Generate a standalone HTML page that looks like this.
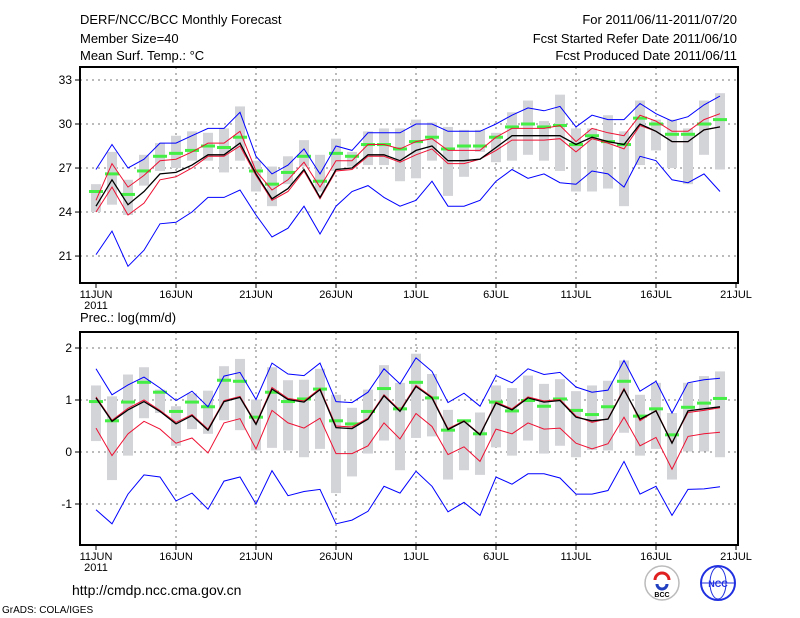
<!DOCTYPE html>
<html><head><meta charset="utf-8">
<style>
html,body{margin:0;padding:0;background:#fff;}
svg{display:block;}
text{font-family:"Liberation Sans Narrow","Liberation Sans",sans-serif;fill:#000;}
</style></head>
<body>
<svg id="chart" width="800" height="618" viewBox="0 0 800 618" xmlns="http://www.w3.org/2000/svg">
<rect width="800" height="618" fill="#fff"/>
<g font-size="13">
<text x="80" y="24">DERF/NCC/BCC Monthly Forecast</text>
<text x="80" y="43">Member Size=40</text>
<text x="80" y="60">Mean Surf. Temp.: °C</text>
<text x="737" y="24" text-anchor="end">For 2011/06/11-2011/07/20</text>
<text x="737" y="43" text-anchor="end">Fcst Started Refer Date 2011/06/10</text>
<text x="737" y="60" text-anchor="end">Fcst Produced Date 2011/06/11</text>
<text x="80" y="322">Prec.: log(mm/d)</text>
<text x="72" y="595" font-size="14">http://cmdp.ncc.cma.gov.cn</text>
<text x="2" y="613" font-size="10">GrADS: COLA/IGES</text>
</g>
<g>
<circle cx="662" cy="583" r="17" fill="#fff" stroke="#bbb" stroke-width="1.5"/>
<path d="M655 580 a7 7 0 1 1 14 0" fill="none" stroke="#e02020" stroke-width="3"/>
<path d="M657 584 a5 5 0 0 0 10 0" fill="none" stroke="#2040c0" stroke-width="3"/>
<text x="662" y="597" font-size="7" text-anchor="middle" font-weight="bold">BCC</text>
</g>
<g>
<circle cx="718" cy="583" r="17" fill="#fff" stroke="#2030e0" stroke-width="2"/>
<ellipse cx="718" cy="583" rx="8" ry="16" fill="none" stroke="#2030e0" stroke-width="1"/>
<line x1="702" y1="583" x2="734" y2="583" stroke="#2030e0"/>
<text x="718" y="587" font-size="9" text-anchor="middle" font-weight="bold" style="fill:#2030e0">NCC</text>
</g>
<g id="top"></g>
<g id="bot"></g>
</svg>
<script>
// x axis
const tickDays=[0,5,10,15,20,25,30,35,40];
const tickLabels=["11JUN","16JUN","21JUN","26JUN","1JUL","6JUL","11JUL","16JUL","21JUL"];
// temperature panel
const tTicks=[33,30,27,24,21];
const tBlueUp=[26.9,28.6,27.0,27.6,28.7,28.7,29.2,29.7,29.7,30.8,27.8,26.6,27.2,28.3,26.6,28.5,28.2,29.4,29.4,29.4,30.0,30.0,29.5,29.5,29.5,30.0,30.6,31.1,30.9,31.2,29.8,30.6,30.3,30.3,31.4,30.7,30.2,30.5,31.3,31.9];
const tBlueLo=[21.1,22.7,20.3,21.4,23.2,23.3,24.0,25.0,25.0,25.5,23.8,22.3,22.9,24.4,22.5,24.4,25.4,25.8,25.0,24.4,24.8,26.1,24.4,24.4,24.8,26.1,26.9,26.3,26.6,26.0,25.9,26.8,26.6,25.7,27.8,27.5,26.2,26.0,26.6,25.4];
const tMean=[24.4,26.2,24.5,25.4,26.6,26.7,27.2,27.9,27.9,28.7,26.6,24.9,25.6,26.9,25.0,26.9,27.0,27.9,27.9,27.5,28.2,28.5,27.5,27.5,27.6,28.4,29.2,29.2,29.2,29.2,28.6,29.1,28.8,28.6,30.0,29.5,28.8,28.8,29.6,29.8];
const tRedUp=[24.8,27.3,25.7,26.5,27.5,27.6,28.1,28.7,28.7,29.5,26.8,25.5,26.2,27.4,25.7,27.5,27.5,28.6,28.6,28.3,28.8,29.0,28.2,28.2,28.2,29.1,29.7,29.7,29.7,29.9,28.8,29.7,29.4,29.2,30.6,30.2,29.5,29.5,30.3,30.7];
const tRedLo=[24.0,25.7,23.8,24.6,26.2,26.4,27.0,27.8,27.8,28.5,26.5,24.8,25.4,26.8,24.9,26.8,26.9,27.8,27.8,27.4,27.9,28.3,27.3,27.3,27.6,28.2,28.9,28.9,28.9,29.0,28.1,29.0,28.7,28.3,29.9,29.5,28.8,28.8,29.6,29.8];
const tObs=[25.4,26.6,25.2,26.8,27.8,28.0,28.2,28.5,28.4,29.1,26.8,25.9,26.7,27.8,26.1,28.0,27.8,28.6,28.6,28.3,28.8,29.1,28.3,28.5,28.5,29.1,29.8,30.0,29.8,29.9,28.6,29.2,28.8,28.6,30.4,30.0,29.3,29.3,30.0,30.3];
const tBarHi=[25.9,28.1,26.2,27.9,28.7,29.2,29.5,29.4,29.7,31.2,27.5,27.1,27.8,28.9,27.9,29.0,28.1,29.5,29.7,29.7,30.3,30.1,29.8,29.6,29.6,29.4,30.8,31.6,30.2,32.0,29.7,29.7,30.6,29.5,31.6,30.3,30.3,29.7,31.6,32.1];
const tBarLo=[24.0,24.5,23.8,25.8,26.8,27.0,27.5,27.5,26.7,27.5,25.4,24.4,25.9,27.1,25.4,26.8,27.1,27.2,27.2,26.1,26.3,27.5,25.1,26.4,28.1,27.4,27.5,27.9,27.5,26.8,25.4,25.4,25.6,24.4,27.2,28.2,27.0,25.9,27.9,26.9];
// precipitation panel
const pTicks=[2,1,0,-1];
const pBlueUp=[1.60,1.10,1.29,1.44,1.23,0.99,1.17,0.87,1.46,1.53,1.01,1.71,1.50,1.47,1.71,0.97,0.95,1.15,1.60,1.31,1.81,1.55,0.95,1.13,0.88,1.47,1.33,1.60,1.49,1.53,1.25,1.15,1.19,1.76,1.17,1.36,0.75,1.33,1.39,1.42];
const pBlueLo=[-1.11,-1.38,-0.81,-0.44,-0.48,-0.94,-0.79,-1.10,-0.56,-0.48,-1.00,-0.36,-0.84,-0.76,-0.72,-1.38,-1.31,-1.14,-0.66,-0.79,-0.37,-0.66,-1.15,-0.97,-1.22,-0.48,-0.62,-0.42,-0.42,-0.50,-0.81,-0.81,-0.74,-0.18,-0.81,-0.66,-1.22,-0.72,-0.71,-0.67];
const pMean=[1.04,0.59,0.81,0.97,0.78,0.54,0.70,0.42,0.97,1.05,0.53,1.21,1.01,0.96,1.20,0.47,0.45,0.63,1.08,0.78,1.26,1.04,0.43,0.59,0.33,0.94,0.81,1.04,0.96,0.99,0.67,0.60,0.63,1.20,0.63,0.79,0.17,0.79,0.83,0.87];
const pRedUp=[1.06,0.61,0.84,1.00,0.80,0.57,0.72,0.44,0.99,1.07,0.55,1.24,1.03,0.98,1.22,0.50,0.48,0.65,1.10,0.80,1.28,1.06,0.45,0.60,0.34,0.96,0.83,1.06,0.98,1.01,0.69,0.57,0.64,1.22,0.60,0.80,0.18,0.76,0.80,0.85];
const pRedLo=[0.46,-0.07,0.35,0.59,0.44,0.17,0.27,-0.02,0.56,0.64,0.06,0.80,0.56,0.46,0.65,-0.03,-0.03,0.12,0.56,0.25,0.74,0.49,-0.05,0.10,-0.18,0.44,0.35,0.56,0.44,0.46,0.17,0.06,0.16,0.67,0.12,0.28,-0.33,0.30,0.35,0.38];
const pObs=[0.97,0.60,0.96,1.34,1.15,0.78,0.96,0.87,1.38,1.36,0.67,1.15,0.97,1.02,1.21,0.60,0.54,0.78,1.22,0.83,1.34,1.04,0.42,0.60,0.35,0.96,0.79,0.99,0.88,1.02,0.80,0.72,0.87,1.36,0.69,0.83,0.33,0.86,0.94,1.03];
const pBarHi=[1.28,1.07,1.49,1.63,1.20,0.88,1.13,1.18,1.65,1.79,1.01,1.63,1.38,1.39,1.60,1.10,0.85,1.20,1.67,1.33,1.89,1.50,0.81,0.62,0.76,1.28,1.23,1.47,1.31,1.40,1.17,1.28,1.37,1.76,1.10,1.33,0.75,1.33,1.46,1.55];
const pBarLo=[0.21,-0.54,-0.07,0.65,0.75,0.12,0.44,0.35,0.61,0.42,0.03,0.08,0.03,-0.10,0.06,-0.79,-0.47,-0.03,0.22,-0.35,0.27,0.30,-0.53,-0.35,-0.44,0.09,-0.07,0.22,-0.03,0.12,-0.10,0.04,0.03,0.37,-0.07,0.06,-0.53,0.01,0.01,-0.10];

const NS="http://www.w3.org/2000/svg";
const X0=80,X1=738;
function xDay(i){return 96+16*i;}
function mk(parent,tag,attrs){const e=document.createElementNS(NS,tag);for(const k in attrs)e.setAttribute(k,attrs[k]);parent.appendChild(e);return e;}

function panel(g,top,bot,yScale,ticks,series,barHi,barLo,obs,isTop){
  // grid
  ticks.forEach(v=>{
    const y=yScale(v);
    const gl=mk(g,'line',{x1:X0,x2:X1,y1:y,y2:y,stroke:'#777','stroke-dasharray':'2,4','stroke-width':1});
    
    
    const tk=mk(g,'line',{x1:X0-5,x2:X0,y1:y,y2:y,stroke:'#000'});
    
    
    const t=mk(g,'text',{x:X0-8,y:y+4,'text-anchor':'end','font-size':12});
    t.textContent=v;
    
    
  });
  tickDays.forEach((d,k)=>{
    const x=xDay(d);
    if(d>0&&d<40){const gl=mk(g,'line',{x1:x,x2:x,y1:top,y2:bot,stroke:'#777','stroke-dasharray':'2,4'});
      
      }
    const tk=mk(g,'line',{x1:x,x2:x,y1:bot,y2:bot+5,stroke:'#000'});
    
    
    const t=mk(g,'text',{x:x,y:bot+15,'text-anchor':'middle','font-size':11});
    t.textContent=tickLabels[k];
    
    
  });
  const yr=mk(g,'text',{x:96,y:bot+26,'text-anchor':'middle','font-size':11});
  yr.textContent='2011';
  
  
  // bars
  barHi.forEach((h,i)=>{
    const y1=yScale(h),y2=yScale(barLo[i]);
    const r=mk(g,'rect',{x:xDay(i)-5,y:y1,width:10,height:Math.max(1,y2-y1),fill:'#d3d4d8'});
    
    
  });
  // obs
  obs.forEach((v,i)=>{
    const r=mk(g,'rect',{x:xDay(i)-7,y:yScale(v)-1.5,width:14,height:3,fill:'#44ee44'});
    
    
  });
  series.forEach(s=>{
    const pts=s.d.map((v,i)=>xDay(i)+','+yScale(v).toFixed(1)).join(' ');
    const p=mk(g,'polyline',{points:pts,fill:'none',stroke:s.c,'stroke-width':s.w||1});
    
    
  });
  const fr=mk(g,'rect',{x:X0,y:top,width:X1-X0,height:bot-top,fill:'none',stroke:'#000','stroke-width':2});
  
  
}
const yT=v=>80+(33-v)*14.67;
const yP=v=>452-v*52;
const gTop=document.getElementById('top');


panel(gTop,67,283,yT,tTicks,[
 {d:tBlueUp,c:'#0000ff',n:'temp-ensemble-max-line'},
 {d:tBlueLo,c:'#0000ff',n:'temp-ensemble-min-line'},
 {d:tRedUp,c:'#ee1133',n:'temp-upper-red-line'},
 {d:tRedLo,c:'#ee1133',n:'temp-lower-red-line'},
 {d:tMean,c:'#000',n:'temp-ensemble-mean-line',w:1.3}],tBarHi,tBarLo,tObs,true);
const gBot=document.getElementById('bot');


panel(gBot,332,545,yP,pTicks,[
 {d:pBlueUp,c:'#0000ff',n:'prec-ensemble-max-line'},
 {d:pBlueLo,c:'#0000ff',n:'prec-ensemble-min-line'},
 {d:pRedUp,c:'#ee1133',n:'prec-upper-red-line'},
 {d:pRedLo,c:'#ee1133',n:'prec-lower-red-line'},
 {d:pMean,c:'#000',n:'prec-ensemble-mean-line',w:1.3}],pBarHi,pBarLo,pObs,false);
</script>
</body></html>
